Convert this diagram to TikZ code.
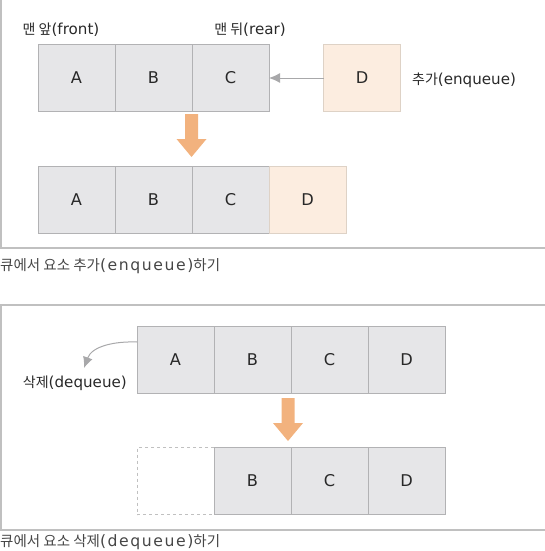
\documentclass[tikz,border=0pt]{standalone}
\usepackage{fontspec}
\setmainfont{Noto Sans CJK KR}
\newfontfamily\lat[Scale=1.08]{DejaVu Sans}
\newfontfamily\capl[Scale=1.08,LetterSpace=10]{DejaVu Sans}
\usetikzlibrary{positioning,arrows.meta}
\definecolor{cellgray}{RGB}{230,230,232}
\definecolor{cellline}{RGB}{178,178,180}
\definecolor{newfill}{RGB}{252,237,224}
\definecolor{newline}{RGB}{222,210,198}
\definecolor{framegray}{RGB}{192,192,192}
\definecolor{arrowgray}{RGB}{168,168,170}
\definecolor{blockorange}{RGB}{242,178,126}
\definecolor{textgray}{RGB}{40,40,40}
\definecolor{capgray}{RGB}{70,70,70}

\begin{document}
\begin{tikzpicture}[x=1pt,y=-1pt,
  cell/.style={draw=cellline, fill=cellgray, line width=1pt, minimum width=77pt,
    minimum height=67pt, inner sep=0pt, outer sep=0pt,
    font=\lat\fontsize{15}{15}\selectfont, text=textgray},
  newcell/.style={cell, draw=newline, fill=newfill},
  gonecell/.style={cell, draw=framegray, dashed, fill=none},
  label/.style={font=\fontsize{14}{16}\selectfont, text=textgray, inner sep=0pt},
  caption/.style={font=\fontsize{14.5}{16}\selectfont, text=capgray, inner sep=0pt, anchor=west},
  frame/.style={draw=framegray, line width=1.2pt},
  pointer/.style={draw=arrowgray, line width=1pt, -{Latex[length=11pt,width=10pt]}},
  downblock/.pic={\fill[blockorange] (-6.5,0) -- (6.5,0) -- (6.5,25) -- (15,25)
    -- (0,43) -- (-15,25) -- (-6.5,25) -- cycle;}
]
  \useasboundingbox (0,0) rectangle (545,551);

  % enqueue panel
  \draw[frame] (1,0) -- (1,248) -- (545,248);
  \node[cell] (ea) at (76.5,78) {A};
  \node[cell, right=0pt of ea] (eb) {B};
  \node[cell, right=0pt of eb] (ec) {C};
  \node[newcell] (ed) at (362,78) {D};
  \draw[pointer] (ed) -- (ec);

  \node[label] (front) at (61,29.5) {맨 앞{\lat(front)}};
  \node[label] (rear) at (250,29.5) {맨 뒤{\lat(rear)}};
  \node[label, anchor=west] (enq) at (412,80) {추가{\lat(enqueue)}};

  \pic at (191.5,114) {downblock};

  \node[cell] (fa) at (76.5,199.5) {A};
  \node[cell, right=0pt of fa] (fb) {B};
  \node[cell, right=0pt of fb] (fc) {C};
  \node[newcell, right=0pt of fc] (fd) {D};

  \node[caption] (cap1) at (0,266) {큐에서 요소 추가{\capl(enqueue)}하기};

  % dequeue panel
  \draw[frame] (545,305) -- (1,305) -- (1,530) -- (545,530);
  \node[cell] (ga) at (175.5,360) {A};
  \node[cell, right=0pt of ga] (gb) {B};
  \node[cell, right=0pt of gb] (gc) {C};
  \node[cell, right=0pt of gc] (gd) {D};

  \node[label, anchor=east] (deq) at (127,383) {삭제{\lat(dequeue)}};
  \coordinate (deqtip) at (84,368);
  \draw[pointer] (ga.west |- 0,342) to[out=178,in=70] (deqtip);

  \pic at (288,398) {downblock};

  \node[gonecell] (ha) at (175.5,481) {};
  \node[cell, right=0pt of ha] (hb) {B};
  \node[cell, right=0pt of hb] (hc) {C};
  \node[cell, right=0pt of hc] (hd) {D};

  \node[caption] (cap2) at (0,542) {큐에서 요소 삭제{\capl(dequeue)}하기};
\end{tikzpicture}
\end{document}
